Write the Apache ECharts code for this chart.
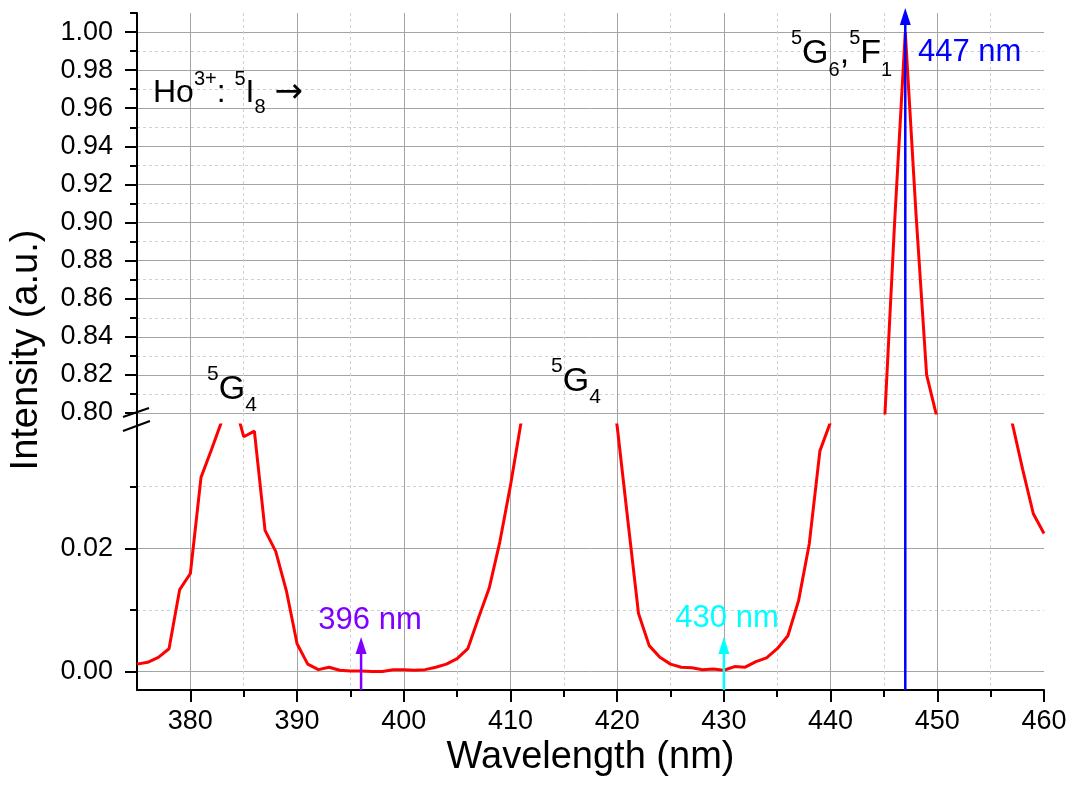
<!DOCTYPE html>
<html>
<head>
<meta charset="utf-8">
<script src="https://cdn.jsdelivr.net/npm/echarts@6/dist/echarts.min.js"></script>
<style>
  html, body { margin: 0; background: #fff; }
  #c { width: 1073px; height: 785px; }
</style>
</head>
<body>
<div id="c"></div>
<script>
// excitation spectrum, 1 nm steps
const wavelengths = [375, 376, 377, 378, 379, 380, 381, 382, 383, 384, 385, 386, 387, 388, 389, 390,
  391, 392, 393, 394, 395, 396, 397, 398, 399, 400, 401, 402, 403, 404, 405, 406, 407, 408, 409, 410,
  411, 412, 413, 414, 415, 416, 417, 418, 419, 420, 421, 422, 423, 424, 425, 426, 427, 428, 429, 430,
  431, 432, 433, 434, 435, 436, 437, 438, 439, 440, 441, 442, 443, 444, 445, 446, 447, 448, 449, 450,
  451, 452, 453, 454, 455, 456, 457, 458, 459, 460];
const intensity = [0.0012, 0.0015, 0.0023, 0.0037, 0.0133, 0.0159, 0.0315, 0.0361, 0.0409, 0.0445, 0.0381, 0.0390, 0.0229, 0.0195, 0.0131, 0.0045,
  0.0012, 0.0003, 0.0007, 0.0002, 0.0001, 0.0001, 0.0000, 0.0000, 0.0003, 0.0003, 0.0002, 0.0003, 0.0007, 0.0012, 0.0021, 0.0037, 0.0087, 0.0135, 0.0210, 0.0302,
  0.0405, 0.052, 0.064, 0.074, 0.079, 0.078, 0.071, 0.062, 0.051, 0.0398, 0.0245, 0.0094, 0.0042, 0.0023, 0.0012, 0.0007, 0.0006, 0.0003, 0.0004, 0.0002,
  0.0008, 0.0007, 0.0016, 0.0022, 0.0037, 0.0058, 0.0115, 0.0207, 0.0358, 0.0405, 0.068, 0.12, 0.21, 0.38, 0.789, 0.90, 1.00, 0.905, 0.82, 0.797,
  0.62, 0.45, 0.31, 0.20, 0.12, 0.07, 0.0405, 0.0328, 0.0256, 0.0224];

// ticks
const xMajor = [380, 390, 400, 410, 420, 430, 440, 450];
const xLabels = [380, 390, 400, 410, 420, 430, 440, 450, 460];
const xMinor = [385, 395, 405, 415, 425, 435, 445, 455];
const yTopMajor = [0.80, 0.82, 0.84, 0.86, 0.88, 0.90, 0.92, 0.94, 0.96, 0.98, 1.00];
const yTopMinor = [0.81, 0.83, 0.85, 0.87, 0.89, 0.91, 0.93, 0.95, 0.97, 0.99];
const yLowMajor = [0, 0.02];
const yLowMinor = [0.01, 0.03];

// excitation arrows
const arrowNm = [396, 430, 447];
const arrowTip = [0.0056, 0.0056, 1.0126];
const arrowPart = ['lower', 'lower', 'upper'];
const arrowColor = ['#8000ff', '#00ffff', '#0000ff'];

const FONT = '"Liberation Sans", Arial, sans-serif';
const SOLID = '#a4a4a4', DASH = '#d0d0d0';
const X_MIN = 375, X_MAX = 460;
const TOP_MIN = 0.80, TOP_MAX = 1.01, LOW_MIN = -0.003, LOW_MAX = 0.04;

const L = 137, R = 29;
const grids = [
  { left: L, right: R, top: 13, height: 400 },
  { left: L, right: R, top: 413, height: 12 },
  { left: L, right: R, top: 425, height: 265 }
];

function xAx(gridIndex, o) {
  return Object.assign({
    type: 'value', gridIndex, min: X_MIN, max: X_MAX, position: 'bottom',
    axisLine: { show: false, onZero: false },
    axisTick: { show: false },
    axisLabel: { show: false },
    splitLine: { show: false }
  }, o);
}
function yAx(gridIndex, min, max, o) {
  return Object.assign({
    type: 'value', gridIndex, min, max, position: 'left',
    axisLine: { show: false, onZero: false },
    axisTick: { show: false },
    axisLabel: { show: false },
    splitLine: { show: false }
  }, o);
}
const solidSplit = { show: true, lineStyle: { color: SOLID, width: 1 } };
const dashSplit = { show: true, lineStyle: { color: DASH, width: 1, type: [3, 3] } };
const blackLine = { show: true, onZero: false, lineStyle: { color: '#000', width: 2 } };
const tick = (vals, len) => ({ show: true, customValues: vals, length: len, lineStyle: { color: '#000', width: 2 } });
const hiddenTick = (vals) => ({ show: false, customValues: vals });
const labelStyle = { fontFamily: FONT, fontSize: 27, color: '#000' };

const xAxis = [
  xAx(0, { axisTick: hiddenTick(xMajor), splitLine: solidSplit }),
  xAx(0, { axisTick: hiddenTick(xMinor), splitLine: dashSplit }),
  xAx(1, { axisTick: hiddenTick(xMajor), splitLine: solidSplit }),
  xAx(1, { axisTick: hiddenTick(xMinor), splitLine: dashSplit }),
  xAx(2, {
    axisLine: blackLine, axisTick: tick(xMajor, 12), splitLine: solidSplit,
    axisLabel: Object.assign({ show: true, customValues: xLabels, margin: 18 }, labelStyle),
    name: 'Wavelength (nm)', nameLocation: 'middle', nameGap: 49,
    nameTextStyle: { fontFamily: FONT, fontSize: 38, color: '#000' }
  }),
  xAx(2, { axisTick: tick(xMinor, 7), splitLine: dashSplit }),
  xAx(2, { axisTick: tick([460], 12) })
];

const yAxis = [
  yAx(0, TOP_MIN, TOP_MAX, {
    axisLine: blackLine, axisTick: tick(yTopMajor, 12), splitLine: solidSplit,
    axisLabel: Object.assign({ show: true, customValues: yTopMajor, margin: 24, formatter: v => v.toFixed(2) }, labelStyle)
  }),
  yAx(0, TOP_MIN, TOP_MAX, { axisTick: tick(yTopMinor, 7), splitLine: dashSplit }),
  yAx(0, TOP_MIN, TOP_MAX, { axisTick: tick([1.01], 7) }),
  yAx(1, 0, 1, { axisLine: blackLine }),
  yAx(2, LOW_MIN, LOW_MAX, {
    axisLine: blackLine, axisTick: tick(yLowMajor, 12), splitLine: solidSplit,
    axisLabel: Object.assign({ show: true, customValues: yLowMajor, margin: 24, formatter: v => v.toFixed(2) }, labelStyle)
  }),
  yAx(2, LOW_MIN, LOW_MAX, { axisTick: tick(yLowMinor, 7), splitLine: dashSplit })
];

const points = wavelengths.map((w, i) => [w, intensity[i]]);
const lineSeries = (xi, yi) => ({
  type: 'line', xAxisIndex: xi, yAxisIndex: yi, data: points,
  symbol: 'none', clip: true, silent: true,
  lineStyle: { color: '#ff0000', width: 3 }
});

const chart = echarts.init(document.getElementById('c'), null, { renderer: 'canvas' });
chart.setOption({
  animation: false,
  backgroundColor: '#fff',
  textStyle: { fontFamily: FONT },
  grid: grids.map(g => Object.assign({ containLabel: false, outerBoundsMode: 'none' }, g)),
  xAxis, yAxis,
  series: [lineSeries(0, 0), lineSeries(4, 4)]
});

// annotation text (rich: sup / sub)
function rich(main, small, lh) {
  return {
    n: { fontSize: main, lineHeight: lh, fontFamily: FONT, fill: '#000' },
    sup: { fontSize: small, lineHeight: small, verticalAlign: 'top', fontFamily: FONT, fill: '#000' },
    sub: { fontSize: small, lineHeight: small, verticalAlign: 'bottom', fontFamily: FONT, fill: '#000' },
    arr: { fontSize: main + 2, lineHeight: lh, fontFamily: '"DejaVu Sans", sans-serif', fill: '#000' }
  };
}
function richText(x, y, text, main, small, lh) {
  return { type: 'text', x, y, z: 100, silent: true,
    style: { text, rich: rich(main, small, lh), fill: '#000', align: 'left', verticalAlign: 'middle', fontFamily: FONT, fontSize: main } };
}
function plainText(x, y, text, color, align) {
  return { type: 'text', x, y, z: 100, silent: true,
    style: { text, fill: color, fontFamily: FONT, fontSize: 31, align, verticalAlign: 'middle' } };
}

const graphics = [
  richText(153, 93, '{n|Ho}{sup|3+}{n|: }{sup|5}{n|I}{sub|8}{n| }{arr|→}', 32, 20, 48),
  richText(207, 390, '{sup|5}{n|G}{sub|4}', 34, 21, 52),
  richText(551, 382, '{sup|5}{n|G}{sub|4}', 34, 21, 52),
  richText(791, 54, '{sup|5}{n|G}{sub|6}{n|,}{sup|5}{n|F}{sub|1}', 34, 20, 52),
  plainText(918, 52, '447 nm', arrowColor[2], 'left'),
  plainText(370, 620, '396 nm', arrowColor[0], 'center'),
  plainText(727, 618, '430 nm', arrowColor[1], 'center'),
  { type: 'text', x: 27, y: 350, rotation: Math.PI / 2, z: 100, silent: true,
    style: { text: 'Intensity (a.u.)', fill: '#000', fontFamily: FONT, fontSize: 38, align: 'center', verticalAlign: 'middle' } },
  // axis break marks
  { type: 'line', z: 100, silent: true, shape: { x1: 123, y1: 417, x2: 149, y2: 408 }, style: { stroke: '#000', lineWidth: 2 } },
  { type: 'line', z: 100, silent: true, shape: { x1: 123, y1: 431, x2: 150, y2: 421 }, style: { stroke: '#000', lineWidth: 2 } }
];

arrowNm.forEach((nm, i) => {
  const base = chart.convertToPixel({ seriesIndex: 1 }, [nm, LOW_MIN]);
  const tip = chart.convertToPixel({ seriesIndex: arrowPart[i] === 'upper' ? 0 : 1 }, [nm, arrowTip[i]]);
  const x = base[0], head = 17, half = 5.5;
  graphics.push({ type: 'line', z: 101, silent: true,
    shape: { x1: x, y1: base[1], x2: x, y2: tip[1] + head - 2 },
    style: { stroke: arrowColor[i], lineWidth: 2.5 } });
  graphics.push({ type: 'polygon', z: 101, silent: true,
    shape: { points: [[x, tip[1]], [x - half, tip[1] + head], [x + half, tip[1] + head]] },
    style: { fill: arrowColor[i] } });
});

chart.setOption({ graphic: graphics });
</script>
</body>
</html>
